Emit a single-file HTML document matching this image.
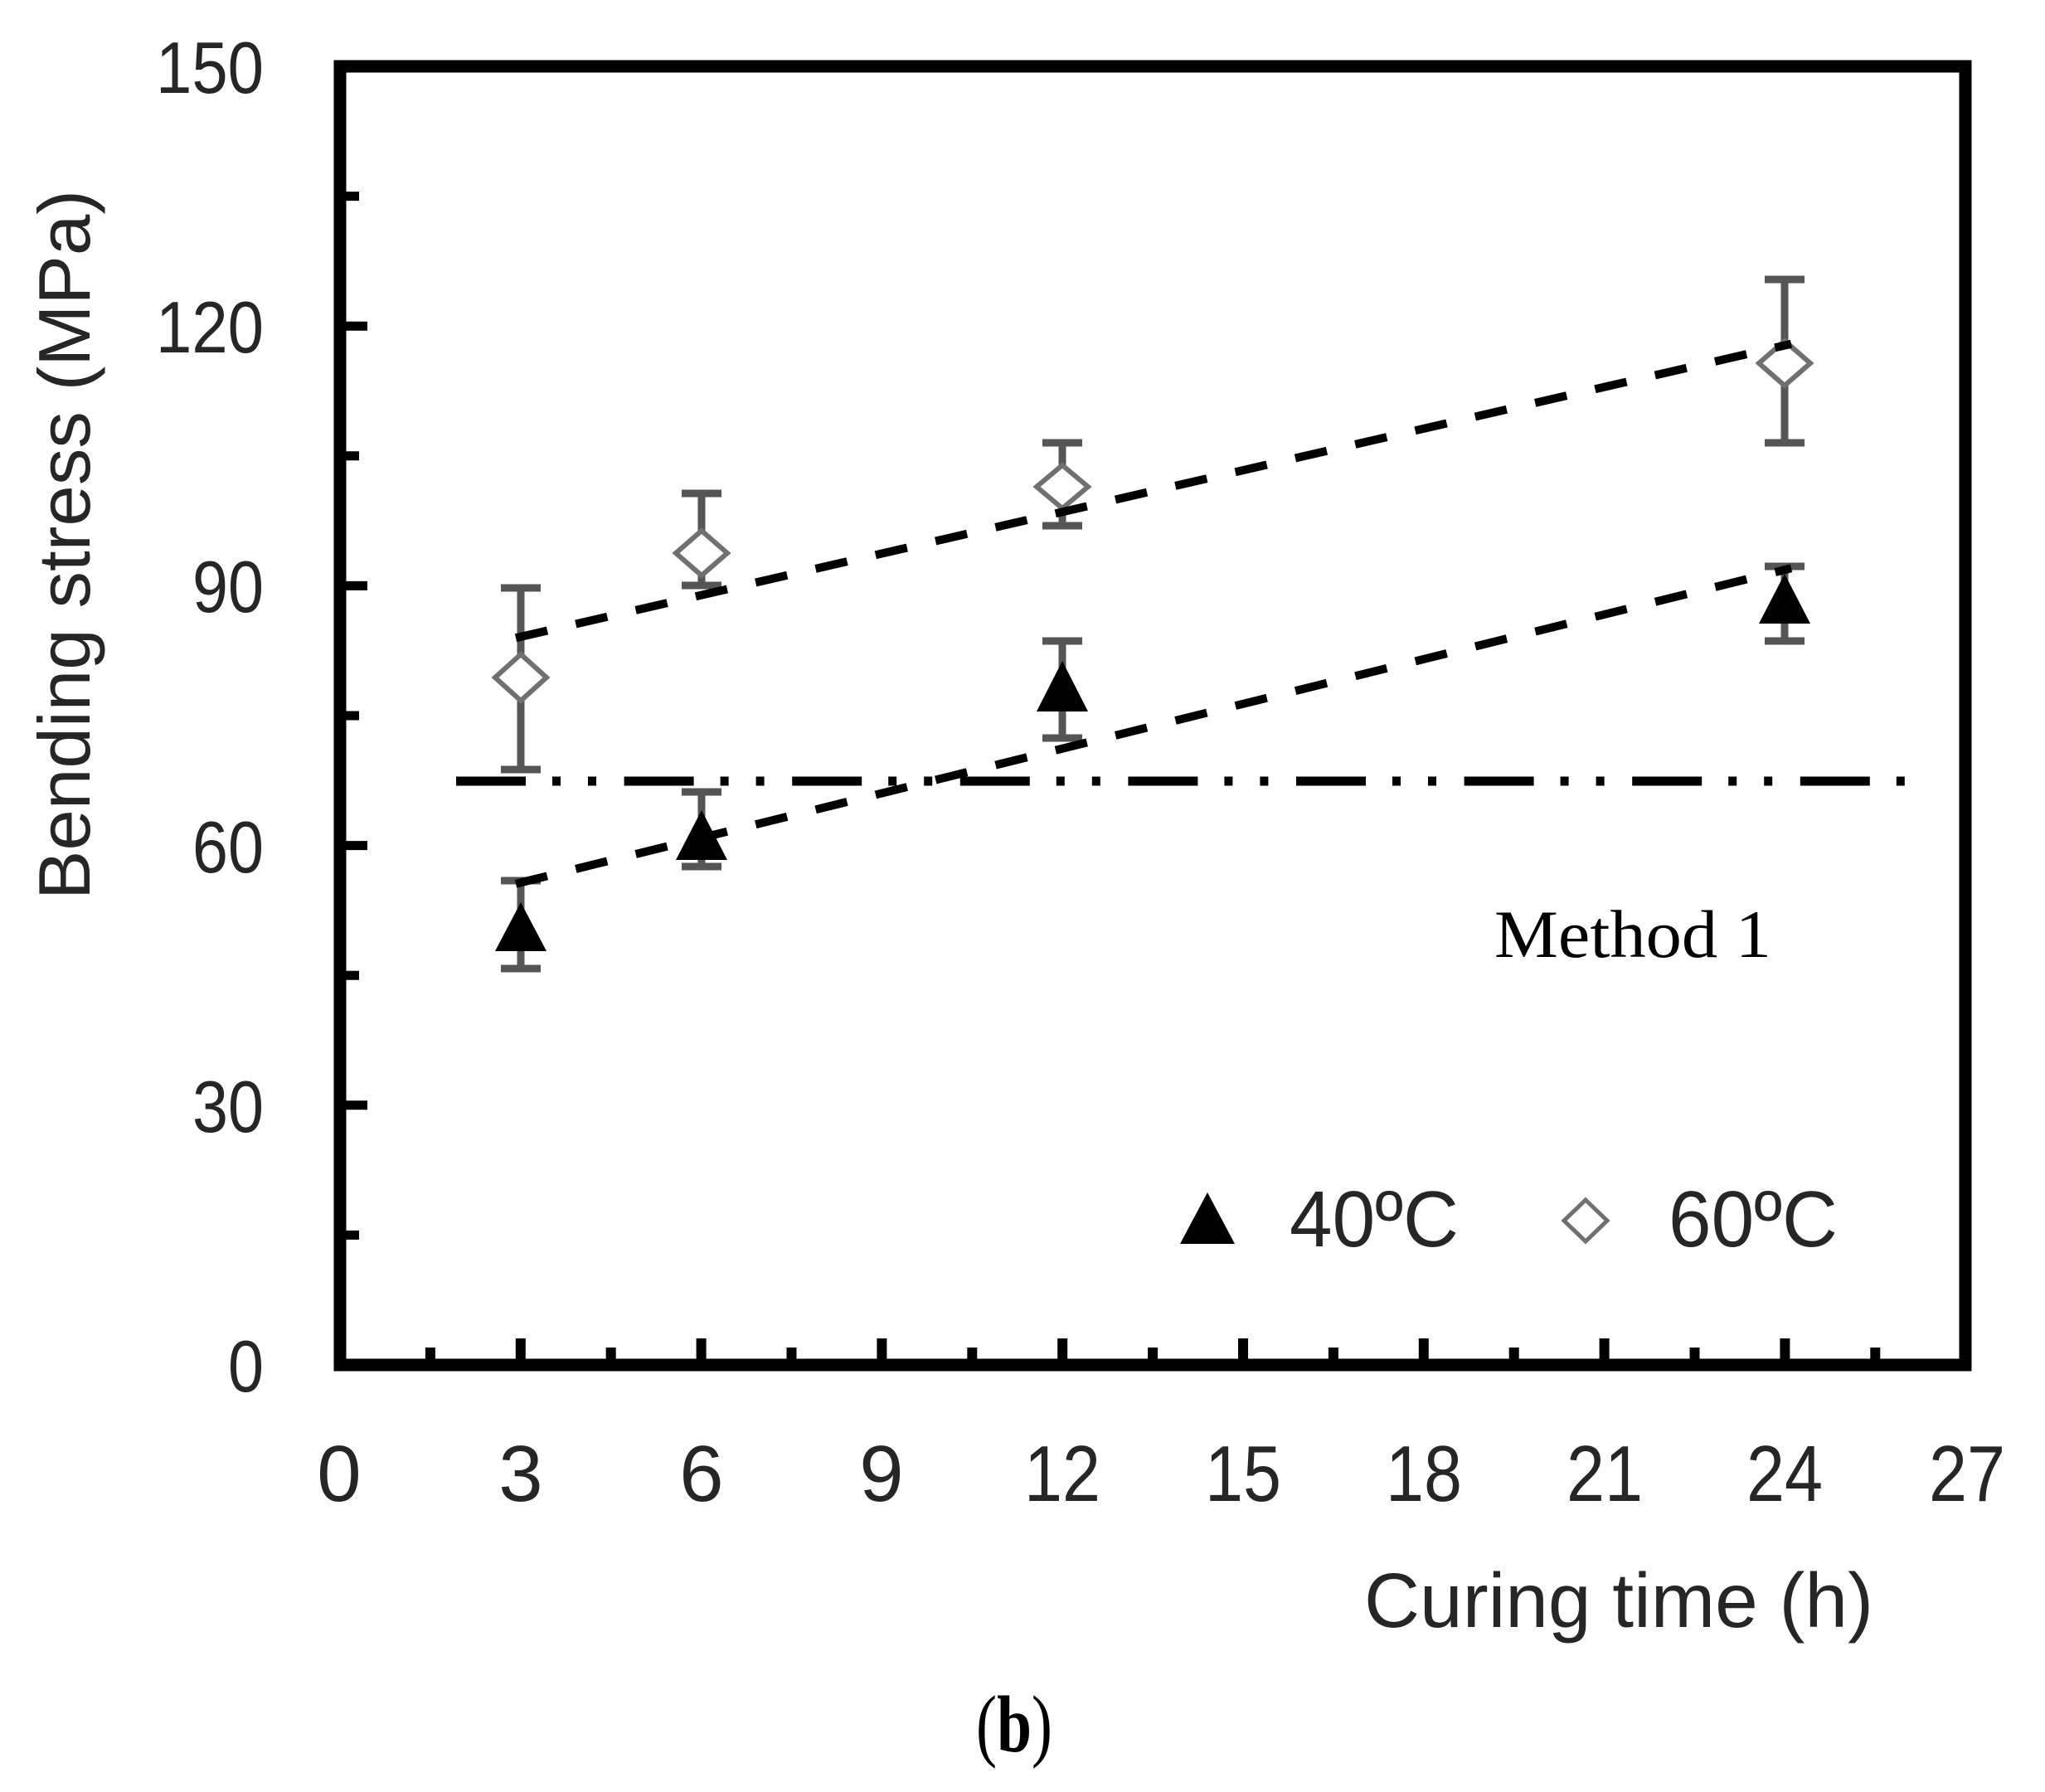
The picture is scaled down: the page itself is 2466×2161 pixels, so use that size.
<!DOCTYPE html>
<html>
<head>
<meta charset="utf-8">
<style>
  html, body { margin: 0; padding: 0; background: #ffffff; }
  svg { display: block; }
</style>
</head>
<body>
<svg xmlns="http://www.w3.org/2000/svg" width="2466" height="2161" viewBox="0 0 2466 2161">
  <rect x="0" y="0" width="2466" height="2161" fill="#ffffff"/>

  <!-- Y ticks (inward, from left axis) -->
  <g stroke="#000" stroke-width="11">
    <line x1="410" y1="1489.4" x2="433" y2="1489.4"/>
    <line x1="410" y1="1332.8" x2="443" y2="1332.8"/>
    <line x1="410" y1="1176.2" x2="433" y2="1176.2"/>
    <line x1="410" y1="1019.6" x2="443" y2="1019.6"/>
    <line x1="410" y1="863" x2="433" y2="863"/>
    <line x1="410" y1="706.4" x2="443" y2="706.4"/>
    <line x1="410" y1="549.8" x2="433" y2="549.8"/>
    <line x1="410" y1="393.2" x2="443" y2="393.2"/>
    <line x1="410" y1="236.6" x2="433" y2="236.6"/>
  </g>

  <!-- X ticks (upward from bottom axis) -->
  <g stroke="#000" stroke-width="12">
    <line x1="518.9" y1="1646" x2="518.9" y2="1625"/>
    <line x1="627.8" y1="1646" x2="627.8" y2="1614"/>
    <line x1="736.7" y1="1646" x2="736.7" y2="1625"/>
    <line x1="845.6" y1="1646" x2="845.6" y2="1614"/>
    <line x1="954.5" y1="1646" x2="954.5" y2="1625"/>
    <line x1="1063.4" y1="1646" x2="1063.4" y2="1614"/>
    <line x1="1172.3" y1="1646" x2="1172.3" y2="1625"/>
    <line x1="1281.2" y1="1646" x2="1281.2" y2="1614"/>
    <line x1="1390.1" y1="1646" x2="1390.1" y2="1625"/>
    <line x1="1499" y1="1646" x2="1499" y2="1614"/>
    <line x1="1607.9" y1="1646" x2="1607.9" y2="1625"/>
    <line x1="1716.8" y1="1646" x2="1716.8" y2="1614"/>
    <line x1="1825.7" y1="1646" x2="1825.7" y2="1625"/>
    <line x1="1934.6" y1="1646" x2="1934.6" y2="1614"/>
    <line x1="2043.5" y1="1646" x2="2043.5" y2="1625"/>
    <line x1="2152.4" y1="1646" x2="2152.4" y2="1614"/>
    <line x1="2261.3" y1="1646" x2="2261.3" y2="1625"/>
  </g>

  <!-- Plot frame -->
  <rect x="410" y="80" width="1960" height="1566" fill="none" stroke="#000" stroke-width="15"/>

  <!-- Error bars -->
  <g stroke="#555" stroke-width="9">
    <!-- 40 C -->
    <line x1="628" y1="1062" x2="628" y2="1168"/>
    <line x1="604" y1="1062" x2="652" y2="1062"/>
    <line x1="604" y1="1168" x2="652" y2="1168"/>
    <line x1="846" y1="955" x2="846" y2="1045"/>
    <line x1="822" y1="955" x2="870" y2="955"/>
    <line x1="822" y1="1045" x2="870" y2="1045"/>
    <line x1="1281" y1="773" x2="1281" y2="890"/>
    <line x1="1257" y1="773" x2="1305" y2="773"/>
    <line x1="1257" y1="890" x2="1305" y2="890"/>
    <line x1="2152" y1="683" x2="2152" y2="773"/>
    <line x1="2128" y1="683" x2="2176" y2="683"/>
    <line x1="2128" y1="773" x2="2176" y2="773"/>
    <!-- 60 C -->
    <line x1="628" y1="709" x2="628" y2="928"/>
    <line x1="604" y1="709" x2="652" y2="709"/>
    <line x1="604" y1="928" x2="652" y2="928"/>
    <line x1="846" y1="595" x2="846" y2="706"/>
    <line x1="822" y1="595" x2="870" y2="595"/>
    <line x1="822" y1="706" x2="870" y2="706"/>
    <line x1="1281" y1="534" x2="1281" y2="634"/>
    <line x1="1257" y1="534" x2="1305" y2="534"/>
    <line x1="1257" y1="634" x2="1305" y2="634"/>
    <line x1="2152" y1="337" x2="2152" y2="534"/>
    <line x1="2128" y1="337" x2="2176" y2="337"/>
    <line x1="2128" y1="534" x2="2176" y2="534"/>
  </g>

  <!-- Triangle markers (40 C) -->
  <g fill="#000">
    <polygon points="628,1088 597,1147 659,1147"/>
    <polygon points="846,977 815,1037 877,1037"/>
    <polygon points="1281,797 1250,858 1312,858"/>
    <polygon points="2152,692 2121,752 2183,752"/>
  </g>

  <!-- Diamond markers (60 C) -->
  <g fill="#fff" stroke="#707070" stroke-width="6">
    <polygon points="628,789 659,817 628,845 597,817"/>
    <polygon points="846,640 877,667 846,694 815,667"/>
    <polygon points="1281,561 1312,587 1281,613 1250,587"/>
    <polygon points="2152,411 2183,438 2152,465 2121,438"/>
  </g>

  <!-- Dash-dot-dot reference line -->
  <line x1="550" y1="942" x2="2298" y2="942" stroke="#000" stroke-width="11" stroke-dasharray="84 32 10 33 10 33.6"/>

  <!-- Trend lines -->
  <line x1="622" y1="769.2" x2="2160" y2="414.7" stroke="#000" stroke-width="10" stroke-dasharray="39 35.2"/>
  <line x1="622" y1="1065.8" x2="2160" y2="685.2" stroke="#000" stroke-width="10" stroke-dasharray="39 35.5"/>

  <!-- Y tick labels -->
  <g font-family="'Liberation Sans', sans-serif" font-size="88" fill="#262626" text-anchor="end">
    <text x="318" y="1678" textLength="43" lengthAdjust="spacingAndGlyphs">0</text>
    <text x="318" y="1365" textLength="86" lengthAdjust="spacingAndGlyphs">30</text>
    <text x="318" y="1052" textLength="86" lengthAdjust="spacingAndGlyphs">60</text>
    <text x="318" y="738" textLength="86" lengthAdjust="spacingAndGlyphs">90</text>
    <text x="318" y="425" textLength="130" lengthAdjust="spacingAndGlyphs">120</text>
    <text x="318" y="112" textLength="130" lengthAdjust="spacingAndGlyphs">150</text>
  </g>

  <!-- X tick labels -->
  <g font-family="'Liberation Sans', sans-serif" font-size="96" fill="#262626" text-anchor="middle">
    <text x="409" y="1810">0</text>
    <text x="628" y="1810">3</text>
    <text x="846" y="1810">6</text>
    <text x="1063" y="1810">9</text>
    <text x="1281" y="1810" textLength="92" lengthAdjust="spacingAndGlyphs">12</text>
    <text x="1499" y="1810" textLength="92" lengthAdjust="spacingAndGlyphs">15</text>
    <text x="1717" y="1810" textLength="92" lengthAdjust="spacingAndGlyphs">18</text>
    <text x="1935" y="1810" textLength="92" lengthAdjust="spacingAndGlyphs">21</text>
    <text x="2152" y="1810" textLength="92" lengthAdjust="spacingAndGlyphs">24</text>
    <text x="2372" y="1810" textLength="92" lengthAdjust="spacingAndGlyphs">27</text>
  </g>

  <!-- Axis titles -->
  <text transform="translate(108,657) rotate(-90)" font-family="'Liberation Sans', sans-serif" font-size="88" fill="#262626" text-anchor="middle" textLength="856" lengthAdjust="spacingAndGlyphs">Bending stress (MPa)</text>
  <text x="1645" y="1962" font-family="'Liberation Sans', sans-serif" font-size="93" fill="#262626" textLength="614" lengthAdjust="spacingAndGlyphs">Curing time (h)</text>

  <!-- Annotation -->
  <text x="1802" y="1154" font-family="'Liberation Serif', serif" font-size="82" fill="#000" textLength="334" lengthAdjust="spacingAndGlyphs">Method 1</text>

  <!-- Legend -->
  <polygon points="1456,1438 1423,1500 1489,1500" fill="#000"/>
  <text x="1555" y="1503" font-family="'Liberation Sans', sans-serif" font-size="96" fill="#262626" textLength="204" lengthAdjust="spacingAndGlyphs">40ºC</text>
  <polygon points="1912,1447 1938,1472 1912,1497 1886,1472" fill="#fff" stroke="#707070" stroke-width="5"/>
  <text x="2012" y="1503" font-family="'Liberation Sans', sans-serif" font-size="96" fill="#262626" textLength="204" lengthAdjust="spacingAndGlyphs">60ºC</text>

  <!-- Panel label -->
  <text x="1177" y="2112" font-family="'Liberation Serif', serif" font-size="98" fill="#000" textLength="92" lengthAdjust="spacingAndGlyphs">(<tspan font-weight="bold">b</tspan>)</text>
</svg>
</body>
</html>
